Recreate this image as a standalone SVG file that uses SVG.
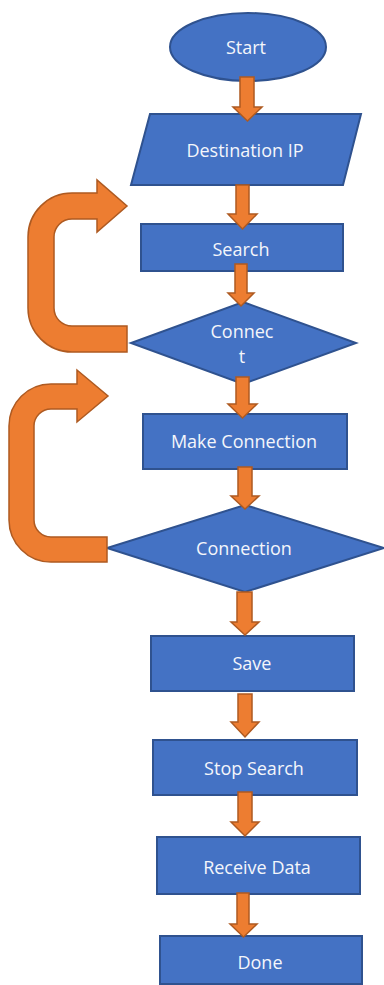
<svg xmlns="http://www.w3.org/2000/svg" width="384" height="985" viewBox="0 0 384 985">
<style>
.n{fill:#4472c4;stroke:#2f528f;stroke-width:2}
.t{fill:#f4f6fb;font-family:"Open Sans","Liberation Sans",sans-serif;font-size:18px;text-anchor:middle}
.a{fill:#ed7d31;stroke:#ae5a21;stroke-width:1.5;stroke-linejoin:miter}
</style>
<rect width="384" height="985" fill="#ffffff"/>
<g id="start"><ellipse class="n" cx="248" cy="47" rx="78" ry="34"/><text class="t" x="246" y="54">Start</text></g>
<g id="destination"><polygon class="n" points="150,114 361,114 343,185 131,185"/><text class="t" x="245" y="157">Destination IP</text></g>
<g id="search"><rect class="n" x="141" y="224" width="202" height="47"/><text class="t" x="241" y="256">Search</text></g>
<g id="connect"><polygon class="n" points="243,302 356,343 243,384 131,343"/><text class="t" x="242" y="338">Connec</text><text class="t" x="242" y="363">t</text></g>
<g id="make-connection"><rect class="n" x="143" y="414" width="204" height="55"/><text class="t" x="244" y="448">Make Connection</text></g>
<g id="connection"><polygon class="n" points="245,505 384,548 245,592 107,548"/><text class="t" x="244" y="555">Connection</text></g>
<g id="save"><rect class="n" x="151" y="636" width="203" height="55"/><text class="t" x="252" y="670">Save</text></g>
<g id="stop-search"><rect class="n" x="153" y="740" width="204" height="55"/><text class="t" x="254" y="775">Stop Search</text></g>
<g id="receive-data"><rect class="n" x="157" y="837" width="203" height="57"/><text class="t" x="257" y="874">Receive Data</text></g>
<g id="done"><rect class="n" x="160" y="936" width="202" height="48"/><text class="t" x="260" y="969">Done</text></g>
<g id="connectors">
<polygon class="a" points="240,77 254,77 254,107 262,107 247.5,121 233,107 240,107"/>
<polygon class="a" points="236,185 249,185 249,214 257,214 242.5,229 228,214 236,214"/>
<polygon class="a" points="235,264 247,264 247,293 254,293 241,306 228,293 235,293"/>
<polygon class="a" points="236,377 249,377 249,404 257,404 242.5,418 228,404 236,404"/>
<polygon class="a" points="238,467 252,467 252,496 259,496 245,509 231,496 238,496"/>
<polygon class="a" points="237,592 252,592 252,622 259,622 245,635 231,622 237,622"/>
<polygon class="a" points="238,694 252,694 252,722 259,722 245,737 231,722 238,722"/>
<polygon class="a" points="238,792 252,792 252,822 259,822 245,836 231,822 238,822"/>
<polygon class="a" points="237,893 249,893 249,924 257,924 243.5,937 230,924 237,924"/>
<path class="a" d="M127,352 L72,352 A44,44 0 0 1 28,308 L28,237 A44,44 0 0 1 72,193 L97,193 L97,180 L127,206 L97,232 L97,219 L72,219 A18,18 0 0 0 54,237 L54,308 A18,18 0 0 0 72,326 L127,326 Z"/>
<path class="a" d="M107,562 L51,562 A42,42 0 0 1 9,520 L9,426 A42,42 0 0 1 51,384 L77,384 L77,370 L108,396 L77,422 L77,409 L51,409 A17,17 0 0 0 34,426 L34,520 A17,17 0 0 0 51,537 L107,537 Z"/>
</g>
</svg>
